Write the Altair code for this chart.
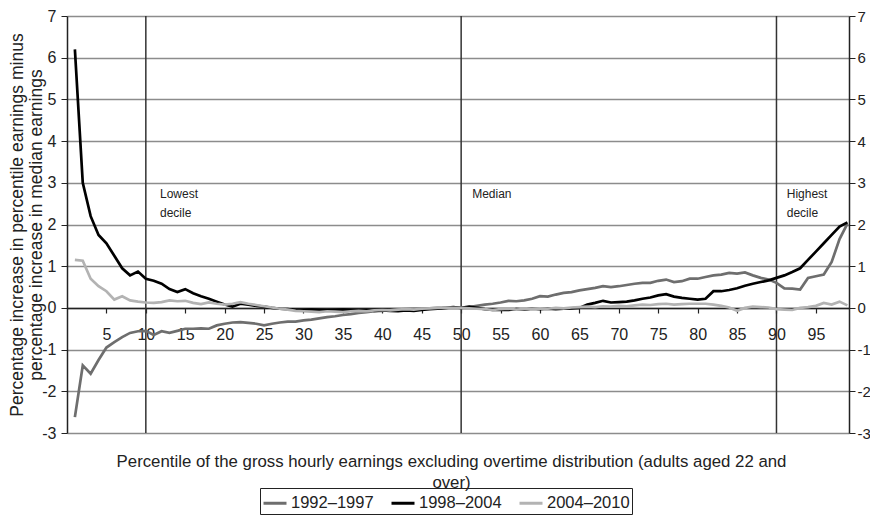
import altair as alt
import pandas as pd

pct = list(range(1, 100))

s1992 = [-2.62, -1.38, -1.58, -1.25, -0.95, -0.82, -0.70, -0.60, -0.56, -0.55,
         -0.65, -0.56, -0.60, -0.55, -0.50, -0.50, -0.49, -0.50, -0.42, -0.38,
         -0.35, -0.34, -0.36, -0.38, -0.42, -0.38, -0.35, -0.33, -0.33, -0.30,
         -0.28, -0.25, -0.22, -0.20, -0.17, -0.15, -0.12, -0.10, -0.08, -0.07,
         -0.05, -0.04, -0.03, -0.02, -0.02, -0.01, 0.00, 0.00, 0.01, 0.00,
         0.02, 0.05, 0.08, 0.10, 0.13, 0.17, 0.16, 0.18, 0.22, 0.28,
         0.27, 0.32, 0.36, 0.38, 0.42, 0.45, 0.48, 0.52, 0.50, 0.52,
         0.55, 0.58, 0.60, 0.60, 0.65, 0.68, 0.62, 0.64, 0.70, 0.70,
         0.74, 0.78, 0.80, 0.84, 0.82, 0.85, 0.78, 0.72, 0.68, 0.60,
         0.47, 0.46, 0.44, 0.72, 0.76, 0.80, 1.10, 1.65, 2.02]

s1998 = [6.20, 3.00, 2.20, 1.75, 1.55, 1.25, 0.95, 0.78, 0.87, 0.70,
         0.65, 0.58, 0.45, 0.38, 0.45, 0.35, 0.28, 0.22, 0.15, 0.08,
         0.03, 0.10, 0.08, 0.05, 0.03, 0.00, -0.02, -0.03, -0.05, -0.05,
         -0.04, -0.05, -0.06, -0.05, -0.04, -0.05, -0.06, -0.05, -0.07, -0.06,
         -0.07, -0.08, -0.06, -0.07, -0.05, -0.03, -0.02, 0.00, 0.02, 0.00,
         0.03, 0.00, -0.03, -0.05, -0.04, -0.05, -0.03, -0.04, -0.02, -0.03,
         -0.02, -0.03, -0.02, -0.01, 0.00, 0.08, 0.12, 0.17, 0.13, 0.14,
         0.15, 0.18, 0.22, 0.25, 0.30, 0.33, 0.27, 0.24, 0.22, 0.20,
         0.22, 0.40, 0.40, 0.43, 0.47, 0.53, 0.58, 0.62, 0.66, 0.72,
         0.78, 0.86, 0.95, 1.15, 1.35, 1.55, 1.75, 1.95, 2.05]

s2004 = [1.15, 1.13, 0.70, 0.52, 0.40, 0.20, 0.28, 0.18, 0.15, 0.13,
         0.12, 0.14, 0.18, 0.16, 0.17, 0.12, 0.09, 0.13, 0.10, 0.08,
         0.10, 0.14, 0.10, 0.07, 0.04, 0.01, -0.02, -0.04, -0.07, -0.08,
         -0.09, -0.10, -0.08, -0.09, -0.10, -0.08, -0.07, -0.08, -0.06, -0.05,
         -0.06, -0.04, -0.03, -0.04, -0.02, -0.01, 0.00, 0.01, 0.00, 0.00,
         -0.01, -0.02, -0.03, -0.05, -0.03, -0.02, -0.04, -0.03, -0.02, -0.01,
         -0.02, 0.00, -0.01, 0.01, 0.02, 0.03, 0.02, 0.04, 0.03, 0.05,
         0.04, 0.06, 0.08, 0.07, 0.09, 0.10, 0.08, 0.09, 0.10, 0.10,
         0.10, 0.08, 0.05, 0.01, -0.07, 0.00, 0.03, 0.02, 0.01, -0.03,
         -0.04, -0.05, 0.00, 0.02, 0.05, 0.12, 0.08, 0.15, 0.06]

series_names = ["1992–1997", "1998–2004", "2004–2010"]
series_colors = ["#6e6e6e", "#000000", "#b3b3b3"]

decile_lines = [10, 50, 90]
ann_text = ["Lowest\ndecile", "Median", "Highest\ndecile"]
ann_x = [11.8, 51.4, 91.3]
ann_y = [2.86, 2.86, 2.86]

y_ticks = list(range(-3, 8))
x_ticks = list(range(5, 100, 5))

x_title = ["Percentile of the gross hourly earnings excluding overtime distribution (adults aged 22 and",
           "over)"]
y_title = ["Percentage increase in percentile earnings minus",
           "percentage increase in median earnings"]

rows = []
for name, vals in zip(series_names, [s1992, s1998, s2004]):
    for p, v in zip(pct, vals):
        rows.append({"pct": p, "val": v, "series": name})
df = pd.DataFrame(rows)

df_rules = pd.DataFrame({"x": decile_lines})
df_ann = pd.DataFrame({"x": ann_x, "y": ann_y, "t": ann_text})

W, H = 782, 417
xscale = alt.Scale(domain=[0, 99.2], nice=False, zero=False)
yscale = alt.Scale(domain=[-3, 7], nice=False, zero=False)
dark = "#222222"
minus_fix = "replace(datum.label, '\u2212', '-')"

rules = alt.Chart(df_rules).mark_rule(color="#333333", strokeWidth=1.5).encode(
    x=alt.X("x:Q", scale=xscale)
)

lines = alt.Chart(df).mark_line(strokeWidth=2.7).encode(
    x=alt.X("pct:Q", scale=xscale,
            axis=alt.Axis(values=x_ticks, orient="bottom", offset=-125,
                          domain=True, domainColor=dark, domainWidth=1.5,
                          ticks=True, tickSize=5, tickColor=dark, tickWidth=1.2,
                          labelFontSize=16, labelPadding=13, labelColor=dark,
                          grid=False, title=x_title, titleFontSize=16.8,
                          titleFontWeight="normal", titleColor=dark,
                          titleY=158, titleX=384, titleBaseline="alphabetic",
                          titleLineHeight=21)),
    y=alt.Y("val:Q", scale=yscale,
            axis=alt.Axis(values=y_ticks, orient="left", grid=True,
                          gridColor="#8c8c8c", gridWidth=1.5,
                          domain=True, domainColor=dark, domainWidth=1.5,
                          ticks=True, tickSize=6, tickColor=dark,
                          labelFontSize=16, labelPadding=5, labelColor=dark,
                          labelExpr=minus_fix,
                          title=y_title, titleFontSize=17.5,
                          titleFontWeight="normal", titleColor=dark,
                          titleX=-50, titleBaseline="middle",
                          titleLineHeight=19)),
    color=alt.Color("series:N",
                    scale=alt.Scale(domain=series_names, range=series_colors),
                    legend=alt.Legend(orient="none", legendX=193, legendY=472,
                                      direction="horizontal", title=None,
                                      symbolType="stroke", symbolSize=529,
                                      symbolStrokeWidth=3, labelFontSize=16.5,
                                      labelColor=dark, labelOffset=3,
                                      columnPadding=11, padding=2,
                                      strokeColor=dark)),
)

ann = alt.Chart(df_ann).mark_text(align="left", baseline="top", fontSize=12,
                                  lineBreak="\n", color=dark, lineHeight=19).encode(
    x=alt.X("x:Q", scale=xscale),
    y=alt.Y("y:Q", scale=yscale,
            axis=alt.Axis(values=y_ticks, orient="right", grid=False,
                          domain=True, domainColor=dark, domainWidth=1.5,
                          ticks=True, tickSize=6, tickColor=dark,
                          labelFontSize=15, labelPadding=2, labelColor=dark,
                          labelExpr=minus_fix, title=None)),
    text="t:N",
)

chart = alt.layer(rules, lines, ann).resolve_scale(y="independent").properties(
    width=W, height=H,
    autosize=alt.AutoSizeParams(type="none"),
    padding={"left": 59, "top": 8, "right": 21, "bottom": 82},
).configure(font="Liberation Sans").configure_view(strokeWidth=0)

chart.save("out.html", embed_options={"renderer": "svg", "actions": False})
